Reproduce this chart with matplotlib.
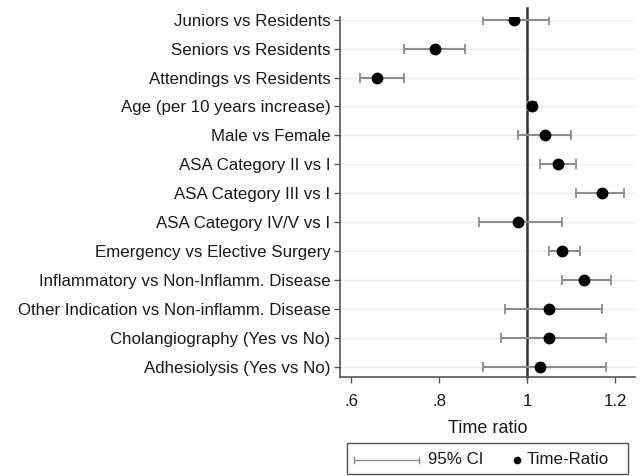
import matplotlib
matplotlib.use("Agg")
import matplotlib.pyplot as plt
from matplotlib.lines import Line2D
from matplotlib.patches import Rectangle

labels = [
    "Juniors vs Residents",
    "Seniors vs Residents",
    "Attendings vs Residents",
    "Age (per 10 years increase)",
    "Male vs Female",
    "ASA Category II vs I",
    "ASA Category III vs I",
    "ASA Category IV/V vs I",
    "Emergency vs Elective Surgery",
    "Inflammatory vs Non-Inflamm. Disease",
    "Other Indication vs Non-inflamm. Disease",
    "Cholangiography (Yes vs No)",
    "Adhesiolysis (Yes vs No)",
]
ratio = [0.97, 0.79, 0.66, 1.01, 1.04, 1.07, 1.17, 0.98, 1.08, 1.13, 1.05, 1.05, 1.03]
ci_low = [0.90, 0.72, 0.62, 1.00, 0.98, 1.03, 1.11, 0.89, 1.05, 1.08, 0.95, 0.94, 0.90]
ci_high = [1.05, 0.86, 0.72, 1.02, 1.10, 1.11, 1.22, 1.08, 1.12, 1.19, 1.17, 1.18, 1.18]
xticks = [0.6, 0.8, 1.0, 1.2]
xticklabels = [".6", ".8", "1", "1.2"]
legend_labels = ["95% CI", "Time-Ratio"]

plt.rcParams['font.family'] = ['Liberation Sans', 'DejaVu Sans']

W, H = 640, 476
fig = plt.figure(figsize=(6.4, 4.76), dpi=100)
ax = fig.add_axes([340/W, 1 - 377/H, 295/W, 360/H])

n = len(labels)
ypos = list(range(n))

for y in ypos:
    ax.axhline(y, color="#ececec", lw=1.0, zorder=0)

ax.axvline(1.0, color="#333333", lw=1.8, zorder=1, ymax=1.025, clip_on=False)

err_lo = [r - l for r, l in zip(ratio, ci_low)]
err_hi = [h - r for r, h in zip(ratio, ci_high)]
ax.errorbar(ratio, ypos, xerr=[err_lo, err_hi], fmt='none', ecolor="#8c8c8c",
            elinewidth=1.5, capsize=3.3, capthick=1.3, zorder=2)
ax.plot(ratio, ypos, 'o', color='black', markersize=7.5, zorder=3)

ax.set_xlim(0.575, 1.245)
ax.set_ylim(n - 1 + 0.34, -0.09)
ax.set_yticks(ypos)
ax.set_yticklabels(labels, fontsize=12.2, color="#1a1a1a")
ax.set_xticks(xticks)
ax.set_xticklabels(xticklabels, fontsize=12.2, color="#1a1a1a")
ax.tick_params(axis='both', direction='out', length=4, width=1, color="#555555", pad=3)
ax.tick_params(axis='x', pad=8)
ax.set_xlabel("Time ratio", fontsize=13, labelpad=8, color="#1a1a1a")

for s in ['top', 'right']:
    ax.spines[s].set_visible(False)
for s in ['left', 'bottom']:
    ax.spines[s].set_color("#555555")
    ax.spines[s].set_linewidth(1.2)

# Legend drawn in figure pixel coordinates
def fx(px):
    return px / W

def fy(py):
    return 1 - py / H

fig.patches.append(Rectangle((fx(347), fy(474)), fx(628) - fx(347), fy(443) - fy(474),
                             transform=fig.transFigure, fill=False,
                             edgecolor="#555555", lw=1.0))
ly = fy(460)
fig.add_artist(Line2D([fx(354), fx(419)], [ly, ly], transform=fig.transFigure,
                      color="#8c8c8c", lw=1.0))
for cx in (354, 419):
    fig.add_artist(Line2D([fx(cx), fx(cx)], [fy(457), fy(463)], transform=fig.transFigure,
                          color="#8c8c8c", lw=1.0))
fig.text(fx(428), ly, legend_labels[0], fontsize=12.2, va='center', ha='left', color="#1a1a1a")
fig.add_artist(Line2D([fx(517)], [ly], transform=fig.transFigure, marker='o',
                      color='black', markersize=4.5, linestyle='none'))
fig.text(fx(527), ly, legend_labels[1], fontsize=12.2, va='center', ha='left', color="#1a1a1a")

fig.savefig("out.png", dpi=100)
